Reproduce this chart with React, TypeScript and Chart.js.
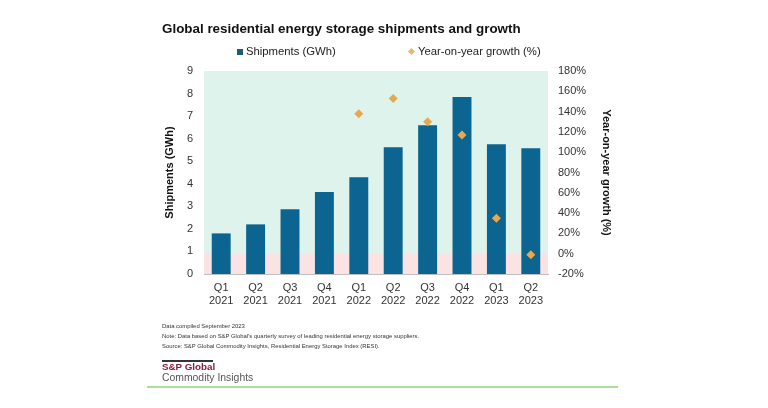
import React, { useEffect, useRef } from "react";
import { Chart, registerables } from "chart.js";

Chart.register(...registerables);

const quarters: string[][] = [
  ["Q1", "2021"], ["Q2", "2021"], ["Q3", "2021"], ["Q4", "2021"],
  ["Q1", "2022"], ["Q2", "2022"], ["Q3", "2022"], ["Q4", "2022"],
  ["Q1", "2023"], ["Q2", "2023"],
];
const shipmentsGWh = [1.8, 2.2, 2.87, 3.63, 4.29, 5.62, 6.6, 7.85, 5.75, 5.57];
const yoyGrowthPct: (number | null)[] = [null, null, null, null, 138, 153, 130, 117, 35, -1];

const footnotes = [
  "Data compiled September 2023",
  "Note: Data based on S&P Global\u2019s quarterly survey of leading residential energy storage suppliers.",
  "Source: S&P Global Commodity Insights, Residential Energy Storage Index (RESI).",
];

const FONT = "'Liberation Sans', Arial, sans-serif";
const BAR = "#0b6590";
const DIAMOND = "#eaa84e";
const MINT = "#def3ec";
const PINK = "#fbe2e3";

// Paints the mint plot background and the pink band for negative growth.
const plotBands = {
  id: "plotBands",
  beforeDatasetsDraw(chart: any) {
    const { ctx, chartArea, scales } = chart;
    const { left, right, top, bottom } = chartArea;
    ctx.save();
    ctx.fillStyle = MINT;
    ctx.fillRect(left, top, right - left, bottom - top);
    const zero = scales.y1.getPixelForValue(0);
    ctx.fillStyle = PINK;
    ctx.fillRect(left, zero, right - left, bottom - zero);
    ctx.restore();
  },
};

const tickFont = { family: FONT, size: 11 };
const titleFont = { family: FONT, size: 11, weight: "bold" as const };

export default function App() {
  const ref = useRef<HTMLCanvasElement>(null);

  useEffect(() => {
    if (!ref.current) return;
    const chart = new Chart(ref.current, {
      type: "bar",
      data: {
        labels: quarters,
        datasets: [
          {
            type: "bar",
            label: "Shipments (GWh)",
            data: shipmentsGWh,
            backgroundColor: BAR,
            yAxisID: "y",
            barPercentage: 0.55,
            categoryPercentage: 1,
            order: 2,
          },
          {
            type: "line",
            label: "Year-on-year growth (%)",
            data: yoyGrowthPct,
            yAxisID: "y1",
            showLine: false,
            pointStyle: "rectRot",
            pointRadius: 4.5,
            backgroundColor: DIAMOND,
            borderColor: DIAMOND,
            borderWidth: 0,
            order: 1,
          } as any,
        ],
      },
      plugins: [plotBands],
      options: {
        animation: false,
        responsive: false,
        maintainAspectRatio: false,
        layout: { padding: { left: 163, right: 155, top: 71, bottom: 94 } },
        plugins: {
          tooltip: { enabled: false },
          legend: { display: false },
        },
        scales: {
          x: {
            grid: { display: false, drawTicks: false },
            border: { display: true, color: "#c0c0c0" },
            ticks: {
              color: "#333",
              font: tickFont,
              padding: 7,
              maxRotation: 0,
              autoSkip: false,
            },
            afterFit: (s: any) => { s.height = 40; },
          },
          y: {
            position: "left",
            min: 0,
            max: 9,
            grid: { display: false, drawTicks: false },
            border: { display: true, color: "#c0c0c0" },
            ticks: {
              stepSize: 1,
              color: "#333",
              font: tickFont,
              padding: 11,
            },
            title: {
              display: true,
              text: "Shipments (GWh)",
              color: "#111",
              font: titleFont,
              padding: 0,
            },
            afterFit: (s: any) => { s.width = 41; },
          },
          y1: {
            position: "right",
            min: -20,
            max: 180,
            grid: { display: false, drawTicks: false },
            border: { display: false },
            ticks: {
              stepSize: 20,
              color: "#333",
              font: tickFont,
              padding: 10,
              callback: (v: any) => `${v}%`,
            },
            title: {
              display: true,
              text: "Year-on-year growth (%)",
              color: "#111",
              font: titleFont,
              padding: 0,
            },
            afterFit: (s: any) => { s.width = 65; },
          },
        },
      },
    });
    return () => chart.destroy();
  }, []);

  const legendText: React.CSSProperties = {
    position: "absolute",
    top: 45,
    fontSize: 11.3,
    color: "#222",
    whiteSpace: "nowrap",
  };

  return (
    <div
      style={{
        position: "relative",
        width: 768,
        height: 408,
        margin: -8,
        background: "#fff",
        fontFamily: FONT,
        overflow: "hidden",
      }}
    >
      <canvas ref={ref} width={768} height={408} style={{ position: "absolute", left: 0, top: 0 }} />
      <div
        style={{
          position: "absolute",
          left: 162,
          top: 21,
          fontSize: 13.4,
          fontWeight: "bold",
          color: "#111",
          whiteSpace: "nowrap",
        }}
      >
        Global residential energy storage shipments and growth
      </div>

      {/* legend */}
      <div style={{ position: "absolute", left: 237, top: 49, width: 6, height: 6, background: "#1d5f72" }} />
      <div style={{ ...legendText, left: 246 }}>Shipments (GWh)</div>
      <div
        style={{
          position: "absolute",
          left: 409,
          top: 49,
          width: 5,
          height: 5,
          background: "#e9b878",
          transform: "rotate(45deg)",
        }}
      />
      <div style={{ ...legendText, left: 418 }}>Year-on-year growth (%)</div>

      <div style={{ position: "absolute", left: 162, top: 321, fontSize: 5.9, lineHeight: "10px", color: "#333" }}>
        {footnotes.map((t) => (
          <div key={t} style={{ whiteSpace: "nowrap" }}>{t}</div>
        ))}
      </div>
      <div style={{ position: "absolute", left: 162, top: 360, width: 51, height: 1.5, background: "#333" }} />
      <div
        style={{
          position: "absolute",
          left: 162,
          top: 361,
          fontSize: 9.8,
          fontWeight: "bold",
          color: "#8c1a43",
          whiteSpace: "nowrap",
        }}
      >
        S&amp;P Global
      </div>
      <div style={{ position: "absolute", left: 162, top: 372, fontSize: 10.4, color: "#555", whiteSpace: "nowrap" }}>
        Commodity Insights
      </div>
      <div style={{ position: "absolute", left: 147, top: 386, width: 471, height: 2, background: "#a9df9b" }} />
    </div>
  );
}
